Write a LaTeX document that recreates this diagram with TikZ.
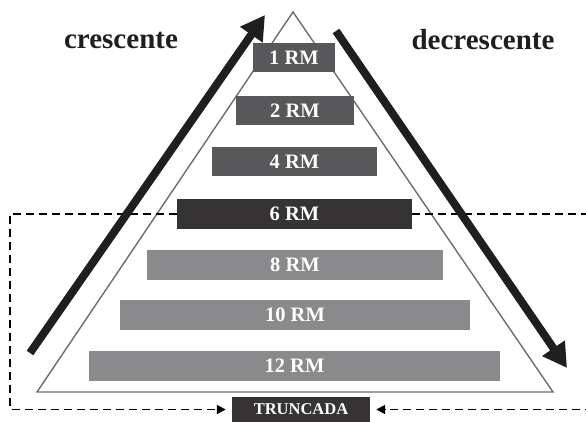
\documentclass[tikz,border=0pt]{standalone}
\usepackage{fontspec}
\setmainfont{Liberation Serif}
\usetikzlibrary{arrows.meta}

\definecolor{barmid}{HTML}{58585A}
\definecolor{bardark}{HTML}{363334}
\definecolor{barlight}{HTML}{8A8A8C}
\definecolor{edgegray}{HTML}{667068}

\tikzset{
  bar/.style={inner sep=0pt, minimum height=29pt, text=white,
    font=\fontsize{20.5}{22}\selectfont\bfseries},
  bigarrow/.style={line width=8pt, draw=black!88,
    -{Triangle[length=24pt,width=26pt]}},
  trunc/.style={dashed, dash pattern=on 8pt off 5pt, line width=1.8pt,
    -{Triangle[length=9pt,width=9pt]}, shorten >=6pt},
  side/.style={font=\fontsize{29}{32}\selectfont\bfseries, text=black!88}
}

\begin{document}
\begin{tikzpicture}[x=1pt,y=-1pt]

\useasboundingbox (0,0) rectangle (586,422);
\clip (0,0) rectangle (586,422);

% The pyramid
\coordinate (apex) at (293,12);
\coordinate (bl) at (37,392);
\coordinate (br) at (553,392);
\draw[edgegray,line width=1.4pt,line join=miter] (apex) -- (bl) -- (br) -- cycle;

% Steps of the pyramid
\node[bar,fill=barmid,minimum width=82pt] (r1) at (294,57.5) {1 RM};
\node[bar,fill=barmid,minimum width=118pt] (r2) at (295,110.5) {2 RM};
\node[bar,fill=barmid,minimum width=165pt] (r4) at (294.5,161.5) {4 RM};
\node[bar,fill=bardark,minimum width=235pt,minimum height=30pt] (r6) at (294.5,214) {6 RM};
\node[bar,fill=barlight,minimum width=296pt,minimum height=30pt] (r8) at (295,265) {8 RM};
\node[bar,fill=barlight,minimum width=350pt,minimum height=30pt] (r10) at (295,315) {10 RM};
\node[bar,fill=barlight,minimum width=411pt,minimum height=30pt] (r12) at (294.5,366) {12 RM};

% Truncated pyramid
\node[bar,fill=bardark,minimum width=138pt,minimum height=25pt,
  font=\fontsize{16.5}{18}\selectfont\bfseries] (tr) at (301,409.5) {TRUNCADA};
\coordinate (dl) at (10,214);
\coordinate (dr) at (600,214);
\draw[trunc] (r6.west) -- (dl) |- (tr.west);
\draw[trunc] (r6.east) -- (dr) |- (tr.east);

% Ascending and descending
\coordinate (up0) at (30,353);
\coordinate (up1) at (265,15);
\coordinate (dn0) at (336,31);
\coordinate (dn1) at (567,368);
\draw[bigarrow] (up0) -- (up1);
\draw[bigarrow] (dn0) -- (dn1);
\node[side] (cres) at (121,40) {crescente};
\node[side] (decr) at (483,40) {decrescente};

\end{tikzpicture}
\end{document}
